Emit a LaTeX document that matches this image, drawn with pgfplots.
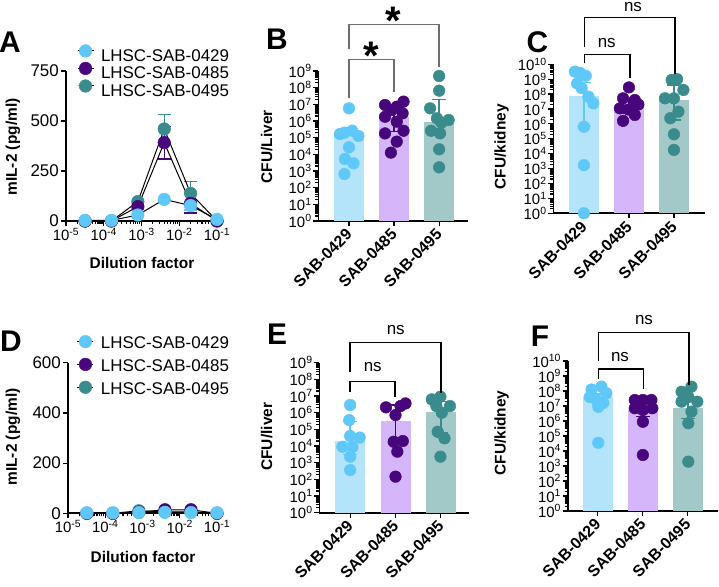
\documentclass[border=0pt]{standalone}
\usepackage{fontspec}
\setmainfont{Liberation Sans}
\usepackage{pgfplots}
\pgfplotsset{compat=1.18}

\definecolor{cBlue}{RGB}{96,200,248}
\definecolor{cPurple}{RGB}{72,6,125}
\definecolor{cTeal}{RGB}{58,140,140}
\definecolor{bBlue}{RGB}{180,228,250}
\definecolor{bPurple}{RGB}{214,182,250}
\definecolor{bTeal}{RGB}{163,200,200}
\definecolor{cGray}{RGB}{110,110,110}

\newcommand\fs[1]{\fontsize{#1}{#1}\selectfont}
\newcommand\tp[1]{10\textsuperscript{#1}}

\pgfplotsset{
  myBase/.style={scale only axis, axis lines*=left, clip=false,
    axis line style={line width=1.6bp, black},
    tick style={line width=1.2bp, black},
    major tick length=5bp, minor tick length=3bp, tick align=outside,
    tick label style={font=\fs{17}},
    yticklabel style={inner sep=2bp},
    xticklabel style={inner sep=2bp}},
  myCfu/.style={ymin=1,
    xtick={0,1,2}, xticklabels={SAB-0429,SAB-0485,SAB-0495},
    xticklabel style={xshift=-4bp, rotate=45, anchor=north east, font=\bfseries\fs{16}, inner sep=1bp},
    yticklabel style={font=\fs{15}, inner sep=1.5bp}},
  myYnine/.style={ymax=1e9, ytick={1,10,100,1e3,1e4,1e5,1e6,1e7,1e8,1e9},
    yticklabels={\tp{0},\tp{1},\tp{2},\tp{3},\tp{4},\tp{5},\tp{6},\tp{7},\tp{8},\tp{9}},
    minor ytick={2,3,4,5,6,7,8,9,20,30,40,50,60,70,80,90,200,300,400,500,600,700,800,900,2e3,3e3,4e3,5e3,6e3,7e3,8e3,9e3,2e4,3e4,4e4,5e4,6e4,7e4,8e4,9e4,2e5,3e5,4e5,5e5,6e5,7e5,8e5,9e5,2e6,3e6,4e6,5e6,6e6,7e6,8e6,9e6,2e7,3e7,4e7,5e7,6e7,7e7,8e7,9e7,2e8,3e8,4e8,5e8,6e8,7e8,8e8,9e8}},
  myYten/.style={ymax=1e10, ytick={1,10,100,1e3,1e4,1e5,1e6,1e7,1e8,1e9,1e10},
    yticklabels={\tp{0},\tp{1},\tp{2},\tp{3},\tp{4},\tp{5},\tp{6},\tp{7},\tp{8},\tp{9},\tp{10}},
    minor ytick={2,3,4,5,6,7,8,9,20,30,40,50,60,70,80,90,200,300,400,500,600,700,800,900,2e3,3e3,4e3,5e3,6e3,7e3,8e3,9e3,2e4,3e4,4e4,5e4,6e4,7e4,8e4,9e4,2e5,3e5,4e5,5e5,6e5,7e5,8e5,9e5,2e6,3e6,4e6,5e6,6e6,7e6,8e6,9e6,2e7,3e7,4e7,5e7,6e7,7e7,8e7,9e7,2e8,3e8,4e8,5e8,6e8,7e8,8e8,9e8,2e9,3e9,4e9,5e9,6e9,7e9,8e9,9e9}},
  mySer/.style={black, line width=1bp, mark=*, mark size=6.3bp, mark options={solid, fill=#1, draw=#1, line width=0.5bp}},
  myEb/.style={forget plot, draw=none, mark=none,
    error bars/y dir=both, error bars/y explicit,
    error bars/error bar style={#1, line width=1.3bp},
    error bars/error mark options={#1, rotate=90, mark size=6.5bp, line width=1.3bp}},
  myPts/.style={only marks, mark=*, mark size=5.8bp, mark options={fill=#1, draw=#1, line width=0.5bp}},
  myBar/.style={ybar, bar width=30bp, bar shift=0pt, fill=#1, draw=none},
  myEbb/.style={forget plot, draw=none, mark=none,
    error bars/y dir=both, error bars/y explicit,
    error bars/error bar style={#1, line width=1.4bp},
    error bars/error mark options={#1, rotate=90, mark size=7bp, line width=1.4bp}},
}

\begin{document}
\begin{tikzpicture}
% ---------------- Panel A ----------------
\begin{axis}[myBase, at={(66bp,366bp)}, anchor=south west, width=151bp, height=150bp,
  xmode=log, xmin=1e-5, xmax=1e-1,
  xtick={1e-5,1e-4,1e-3,1e-2,1e-1},
  xticklabels={\tp{-5},\tp{-4},\tp{-3},\tp{-2},\tp{-1}},
  xticklabel style={font=\fs{15}},
  minor xtick={2e-5,3e-5,4e-5,5e-5,6e-5,7e-5,8e-5,9e-5,2e-4,3e-4,4e-4,5e-4,6e-4,7e-4,8e-4,9e-4,2e-3,3e-3,4e-3,5e-3,6e-3,7e-3,8e-3,9e-3,2e-2,3e-2,4e-2,5e-2,6e-2,7e-2,8e-2,9e-2},
  ymin=0, ymax=750, ytick={0,250,500,750},
  yticklabel style={/pgf/number format/assume math mode=true},
  reverse legend, legend cell align=left,
  legend image code/.code={\draw[mark repeat=2,mark phase=2,#1] plot coordinates {(0bp,6bp) (8bp,6bp) (16bp,6bp)};},
  legend style={at={(0.073,1.176)}, anchor=north west, draw=none, fill=none,
    inner sep=0pt, outer sep=0pt, row sep=-3bp,
    nodes={inner sep=0pt, text height=12.5bp, text depth=4bp, font=\fs{17}},
    /tikz/every odd column/.append style={column sep=7bp}}]
\addplot[myEb=cTeal] coordinates {(4e-3,460) +- (0,73) (2e-2,138) +- (0,60)};
\addplot[mySer=cTeal] coordinates {(3.2e-5,0) (1.6e-4,0) (8e-4,97) (4e-3,460) (2e-2,138) (0.1,0)};
\addlegendentry{LHSC-SAB-0495}
\addplot[myEb=cPurple] coordinates {(4e-3,392) +- (0,82) (2e-2,88) +- (0,48)};
\addplot[mySer=cPurple] coordinates {(3.2e-5,0) (1.6e-4,0) (8e-4,72) (4e-3,392) (2e-2,88) (0.1,0)};
\addlegendentry{LHSC-SAB-0485}
\addplot[myEb=cBlue] coordinates {(2e-2,77) +- (0,22)};
\addplot[mySer=cBlue] coordinates {(3.2e-5,3) (1.6e-4,3) (8e-4,30) (4e-3,108) (2e-2,77) (0.1,8)};
\addlegendentry{LHSC-SAB-0429}
\end{axis}

% ---------------- Panel D ----------------
\begin{axis}[myBase, at={(68bp,73.7bp)}, anchor=south west, width=149bp, height=150.6bp,
  xmode=log, xmin=1e-5, xmax=1e-1,
  xtick={1e-5,1e-4,1e-3,1e-2,1e-1},
  xticklabels={\tp{-5},\tp{-4},\tp{-3},\tp{-2},\tp{-1}},
  xticklabel style={font=\fs{15}},
  minor xtick={2e-5,3e-5,4e-5,5e-5,6e-5,7e-5,8e-5,9e-5,2e-4,3e-4,4e-4,5e-4,6e-4,7e-4,8e-4,9e-4,2e-3,3e-3,4e-3,5e-3,6e-3,7e-3,8e-3,9e-3,2e-2,3e-2,4e-2,5e-2,6e-2,7e-2,8e-2,9e-2},
  ymin=0, ymax=600, ytick={0,200,400,600},
  yticklabel style={/pgf/number format/assume math mode=true},
  reverse legend, legend cell align=left,
  legend image code/.code={\draw[mark repeat=2,mark phase=2,#1] plot coordinates {(0bp,6bp) (8bp,6bp) (16bp,6bp)};},
  legend style={at={(0.06,1.182)}, anchor=north west, draw=none, fill=none,
    inner sep=0pt, outer sep=0pt, row sep=-0.7bp,
    nodes={inner sep=0pt, text height=12.5bp, text depth=10bp, font=\fs{17}},
    /tikz/every odd column/.append style={column sep=7bp}}]
\addplot[mySer=cTeal] coordinates {(3.2e-5,0) (1.6e-4,0) (8e-4,10) (4e-3,6) (2e-2,6) (0.1,0)};
\addlegendentry{LHSC-SAB-0495}
\addplot[mySer=cPurple] coordinates {(3.2e-5,0) (1.6e-4,0) (8e-4,5) (4e-3,14) (2e-2,14) (0.1,0)};
\addlegendentry{LHSC-SAB-0485}
\addplot[mySer=cBlue] coordinates {(3.2e-5,2) (1.6e-4,2) (8e-4,3) (4e-3,4) (2e-2,3) (0.1,2)};
\addlegendentry{LHSC-SAB-0429}
\end{axis}

% ---------------- Panel B ----------------
\begin{axis}[myBase, ymode=log, log origin=infty, myCfu, myYnine, at={(318.3bp,366bp)}, anchor=south west, width=149.7bp, height=150bp,
  xmin=-0.68, xmax=2.64]
\addplot[myBar=bBlue] coordinates {(0,2.3e5)};
\addplot[myBar=bPurple] coordinates {(1,1.8e6)};
\addplot[myBar=bTeal] coordinates {(2,8.3e5)};
\addplot[myPts=cBlue] coordinates {(0,5.75e6) (-0.2,1.66e5) (0.07,2.63e5) (0.21,1.26e5) (-0.1,2.0e5) (0,2.63e4) (-0.09,5.25e3) (0.1,2.88e3) (-0.1,6.6e2)};
\addplot[myPts=cPurple] coordinates {(0.8,9.1e6) (1.21,1.45e7) (1.06,7.2e6) (1.19,2.9e6) (0.8,1.8e6) (1.06,9.1e5) (0.8,1.8e5) (1.21,2.6e5) (1.06,5.8e4) (0.93,1.26e4) (0.95,4.5e6)};
\addplot[myPts=cTeal] coordinates {(2,5e8) (2,6.6e7) (1.8,5.75e6) (1.95,1.45e6) (2.21,1.15e6) (2.05,7.9e5) (1.82,2.6e5) (2.02,1.8e5) (2,2e4) (2,1.66e3)};
\addplot[myEbb=cBlue] coordinates {(0,2.3e5) += (0,1e5) -= (0,1e5)};
\addplot[myEbb=cPurple] coordinates {(1,1.8e6) += (0,5.4e6) -= (0,1.57e6)};
\addplot[myEbb=cTeal] coordinates {(2,8.3e5) += (0,1.92e7) -= (0,6.6e5)};
\end{axis}

% ---------------- Panel C ----------------
\begin{axis}[myBase, ymode=log, log origin=infty, myCfu, myYten, at={(553.3bp,373.7bp)}, anchor=south west, width=151.7bp, height=149bp,
  xmin=-0.68, xmax=2.69]
\addplot[myBar=bBlue] coordinates {(0,7.4e7)};
\addplot[myBar=bPurple] coordinates {(1,2.0e7)};
\addplot[myBar=bTeal] coordinates {(2,4.0e7)};
\addplot[myPts=cBlue] coordinates {(-0.2,3.2e9) (0.04,1.7e9) (-0.15,5.2e8) (-0.05,2.5e8) (0.1,6.8e7) (0.21,2.4e7) (0,6.5e5) (0,1.7e3) (0,1) (-0.08,2.6e9)};
\addplot[myPts=cPurple] coordinates {(1,2.8e8) (0.87,5.2e7) (1.13,4e7) (1.21,2e7) (0.8,1.1e7) (0.99,9.3e6) (1.13,4e6) (0.87,1.6e6)};
\addplot[myPts=cTeal] coordinates {(1.95,8.9e8) (2.07,1e9) (2.21,1.9e8) (1.8,5.2e7) (2.0,5.2e7) (2.1,6.6e6) (1.92,2.4e6) (2,2e5) (2,1.8e4)};
\addplot[myEbb=cBlue] coordinates {(0,7.4e7) += (0,5e8) -= (0,7.33e7)};
\addplot[myEbb=cPurple] coordinates {(1,2.0e7) += (0,3e7) -= (0,1.5e7)};
\addplot[myEbb=cTeal] coordinates {(2,4.0e7) += (0,3.6e8) -= (0,3.82e7)};
\end{axis}

% ---------------- Panel E ----------------
\begin{axis}[myBase, ymode=log, log origin=infty, myCfu, myYnine, at={(319.3bp,74.3bp)}, anchor=south west, width=149.7bp, height=150bp,
  xmin=-0.68, xmax=2.62]
\addplot[myBar=bBlue] coordinates {(0,2.1e4)};
\addplot[myBar=bPurple] coordinates {(1,3.2e5)};
\addplot[myBar=bTeal] coordinates {(2,1.05e6)};
\addplot[myPts=cBlue] coordinates {(0,2.9e6) (-0.02,3.6e5) (0,4e4) (0.21,3.2e4) (-0.17,9.1e3) (0.05,8.7e3) (0,2.3e3) (0,3.6e2)};
\addplot[myPts=cPurple] coordinates {(0.79,2.1e6) (1.0,7.2e5) (1.22,3.6e6) (1.11,2.5e6) (0.96,1.8e4) (1.16,2e4) (1.04,4.6e3) (1.0,1.45e2)};
\addplot[myPts=cTeal] coordinates {(1.8,6.3e6) (1.99,9.1e6) (1.9,2.5e6) (2.2,2.5e6) (2.02,1e6) (1.93,7.2e4) (2.08,2.9e4) (1.99,2.3e3)};
\addplot[myEbb=cBlue] coordinates {(0,2.1e4) += (0,2.7e5) -= (0,1.78e4)};
\addplot[myEbb=cPurple] coordinates {(1,3.2e5) += (0,2.6e6) -= (0,3.0e5)};
\addplot[myEbb=cTeal] coordinates {(2,1.05e6) += (0,3.55e6) -= (0,9.9e5)};
\end{axis}

% ---------------- Panel F ----------------
\begin{axis}[myBase, ymode=log, log origin=infty, myCfu, myYten, at={(567.7bp,76bp)}, anchor=south west, width=150.3bp, height=150bp,
  xmin=-0.67, xmax=2.67]
\addplot[myBar=bBlue] coordinates {(0,4.2e7)};
\addplot[myBar=bPurple] coordinates {(1,5.4e6)};
\addplot[myBar=bTeal] coordinates {(2,7.1e6)};
\addplot[myPts=cBlue] coordinates {(0.08,1.95e8) (-0.14,1.26e8) (0.19,7.1e7) (-0.03,2.5e7) (-0.18,4e7) (0.12,1.6e7) (0.01,8.9e6) (0.01,3.5e4)};
\addplot[myPts=cPurple] coordinates {(0.82,2.5e7) (1.0,2.5e7) (1.19,2.5e7) (0.82,7.1e6) (1.21,7.1e6) (1.0,5.4e6) (1.0,8.9e5) (1.0,5.4e3)};
\addplot[myPts=cTeal] coordinates {(1.86,8.9e7) (2.08,1.95e8) (2.21,1.95e7) (1.86,1.95e7) (2.01,4e7) (2.08,4.2e6) (2.01,7.1e5) (2.01,1.95e3)};
\addplot[myEbb=cBlue] coordinates {(0,4.2e7) += (0,2e7) -= (0,2e7)};
\addplot[myEbb=cPurple] coordinates {(1,5.4e6) += (0,1e7) -= (0,3.45e6)};
\addplot[myEbb=cTeal] coordinates {(2,7.1e6) += (0,1.3e7) -= (0,5.6e6)};
\end{axis}

% ---------------- Annotations ----------------
\begin{scope}[x=1bp, y=1bp]
\node[rotate=90, font=\bfseries\fs{15.5}, inner sep=0pt] at (13,440) {mIL-2 (pg/ml)};
\node[font=\bfseries\fs{15.5}, inner sep=0pt] at (142,324) {Dilution factor};
\node[rotate=90, font=\bfseries\fs{15.5}, inner sep=0pt] at (13,150) {mIL-2 (pg/ml)};
\node[font=\bfseries\fs{15.5}, inner sep=0pt] at (143,30) {Dilution factor};
\node[rotate=90, font=\bfseries\fs{15.5}, inner sep=0pt] at (266.7,440.3) {CFU/Liver};
\node[rotate=90, font=\bfseries\fs{15.5}, inner sep=0pt] at (501.7,440.3) {CFU/kidney};
\node[rotate=90, font=\bfseries\fs{15.5}, inner sep=0pt] at (266.7,150.3) {CFU/liver};
\node[rotate=90, font=\bfseries\fs{15.5}, inner sep=0pt] at (501.7,154) {CFU/kidney};
\node[font=\bfseries\fs{30}, inner sep=0pt] at (10,544.5) {A};
\node[font=\bfseries\fs{30}, inner sep=0pt] at (277,548) {B};
\node[font=\bfseries\fs{30}, inner sep=0pt] at (537.5,544.5) {C};
\node[font=\bfseries\fs{30}, inner sep=0pt] at (11,246) {D};
\node[font=\bfseries\fs{30}, inner sep=0pt] at (277,253) {E};
\node[font=\bfseries\fs{30}, inner sep=0pt] at (540,251) {F};
\draw[cGray, line width=1.2bp] (349,537.7) -- (349,562.7) -- (439,562.7) -- (439,520);
\draw[cGray, line width=1.2bp] (349,489) -- (349,527.7) -- (394,527.7) -- (394,495);
\node[font=\bfseries\fs{40}, inner sep=0pt, anchor=base] at (393,552.5) {*};
\node[font=\bfseries\fs{40}, inner sep=0pt, anchor=base] at (371.7,517.5) {*};
\draw[black, line width=1.2bp] (584.3,540.3) -- (584.3,569.3) -- (675,569.3) -- (675,513);
\draw[black, line width=1.2bp] (584.3,523.7) -- (584.3,532.7) -- (630,532.7) -- (630,508.7);
\node[font=\fs{17}, inner sep=0pt] at (633,579.5) {ns};
\node[font=\fs{17}, inner sep=0pt] at (606.7,544.3) {ns};
\draw[black, line width=1.2bp] (350,215.3) -- (350,244.7) -- (441,244.7) -- (441,194);
\draw[black, line width=1.2bp] (350,195.3) -- (350,205.3) -- (395,205.3) -- (395,190.3);
\node[font=\fs{17}, inner sep=0pt] at (395.7,257) {ns};
\node[font=\fs{17}, inner sep=0pt] at (372.7,219.7) {ns};
\draw[black, line width=1.2bp] (598.3,226.3) -- (598.3,254.7) -- (689,254.7) -- (689,202);
\draw[black, line width=1.2bp] (598.3,208) -- (598.3,218) -- (643.3,218) -- (643.3,197.7);
\node[font=\fs{17}, inner sep=0pt] at (644,267) {ns};
\node[font=\fs{17}, inner sep=0pt] at (620,230.3) {ns};
\end{scope}
\pgfresetboundingbox
\path (0bp,0bp) rectangle (719bp,587bp);
\end{tikzpicture}
\end{document}
